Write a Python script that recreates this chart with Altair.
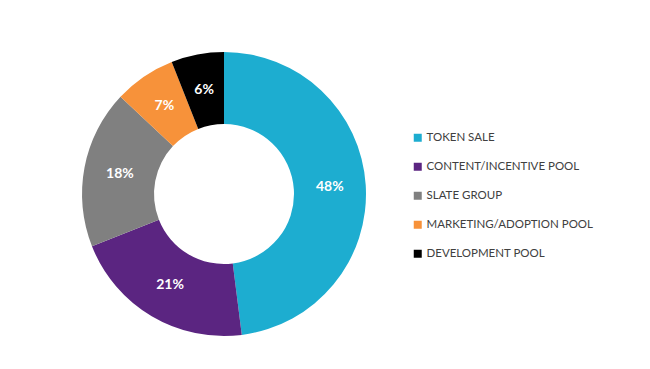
import altair as alt
import pandas as pd

categories = ["TOKEN SALE", "CONTENT/INCENTIVE POOL", "SLATE GROUP", "MARKETING/ADOPTION POOL", "DEVELOPMENT POOL"]
values = [48, 21, 18, 7, 6]
labels = ["48%", "21%", "18%", "7%", "6%"]
colors = ["#1DADD0", "#5B2581", "#808080", "#F7923A", "#000000"]

df = pd.DataFrame({
    "category": categories,
    "value": values,
    "label": labels,
    "order": list(range(len(categories))),
})

cx, cy = 216, 186
outer, inner = 142, 70

base = alt.Chart(df).encode(
    theta=alt.Theta("value:Q", stack=True),
    order=alt.Order("order:Q"),
)

arcs = base.mark_arc(outerRadius=outer, innerRadius=inner, x=cx, y=cy).encode(
    color=alt.Color(
        "category:N",
        scale=alt.Scale(domain=categories, range=colors),
        sort=categories,
        legend=alt.Legend(
            title=None,
            orient="none",
            legendX=404,
            legendY=124,
            symbolType="square",
            symbolSize=64,
            symbolStrokeWidth=0,
            labelFont="Lato",
            labelFontSize=11.5,
            labelColor="#404040",
            labelLimit=400,
            rowPadding=16,
            labelOffset=3,
        ),
    )
)

text = base.mark_text(
    radius=(outer + inner) / 2, x=cx, y=cy,
    font="Lato", fontSize=14, fontWeight="bold", color="white",
).encode(text="label:N")

chart = (arcs + text).properties(
    width=634, height=353, padding=0, autosize=alt.AutoSizeParams(type="none")
).configure_view(stroke=None).configure(background="white")

chart.save("out.html", embed_options={"renderer": "svg", "actions": False})
